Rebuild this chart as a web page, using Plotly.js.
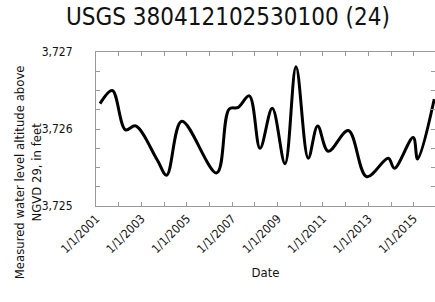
<!DOCTYPE html>
<html>
<head>
<meta charset="utf-8">
<script src="https://cdn.plot.ly/plotly-3.0.1.min.js"></script>
<style>html,body{margin:0;padding:0;background:#fff;}#chart{width:435px;height:302px;}</style>
</head>
<body>
<div id="chart"></div>
<script>
const dates = ['2001-03-07','2001-09-20','2002-04-20','2002-10-01','2003-09-12','2004-02-12','2004-10-12','2006-04-27','2006-11-15','2007-04-07','2007-10-04','2008-03-25','2008-10-08','2009-05-01','2009-10-25','2010-05-10','2010-10-08','2011-03-28','2012-02-14','2012-12-06','2013-11-18','2014-02-24','2014-12-24','2015-03-05','2015-11-28'];
const levels = [3726.33,3726.50,3725.99,3726.04,3725.60,3725.40,3726.10,3725.43,3726.26,3726.28,3726.43,3725.75,3726.27,3725.55,3726.81,3725.62,3726.04,3725.71,3725.98,3725.38,3725.62,3725.49,3725.89,3725.61,3726.39];
const xTickVals = ['2001-01-01','2002-01-01','2003-01-01','2004-01-01','2005-01-01','2006-01-01','2007-01-01','2008-01-01','2009-01-01','2010-01-01','2011-01-01','2012-01-01','2013-01-01','2014-01-01','2015-01-01'];
const xTickText = ['1/1/2001','','1/1/2003','','1/1/2005','','1/1/2007','','1/1/2009','','1/1/2011','','1/1/2013','','1/1/2015'];
const yTickVals = [3725,3725.25,3725.5,3725.75,3726,3726.25,3726.5,3726.75,3727];
const yTickText = ['3,725','','','','3,726','','','','3,727'];
const titleText = 'USGS 380412102530100 (24)';
const yTitle = 'Measured water level altitude above<br>NGVD 29, in feet';
const xTitle = 'Date';

const FONT = '"Liberation Sans Narrow", "DejaVu Sans Condensed", sans-serif';

Plotly.newPlot('chart', [{
  x: dates, y: levels, type: 'scatter', mode: 'lines',
  line: {color: '#000', width: 3, shape: 'spline', smoothing: 1}
}], {
  width: 435, height: 302,
  margin: {l: 96, r: 0, t: 52, b: 96},
  paper_bgcolor: '#fff', plot_bgcolor: '#fff',
  showlegend: false,
  font: {family: FONT, color: '#000', size: 12},
  title: {text: titleText, font: {family: FONT, size: 24, color: '#111'}, xref: 'container', x: 0.524, xanchor: 'center', yref: 'container', y: 0.945, yanchor: 'middle'},
  xaxis: {
    type: 'date', range: ['2001-01-01', '2015-12-10'],
    tickmode: 'array', tickvals: xTickVals, ticktext: xTickText,
    tickangle: -45, ticks: 'inside', ticklen: 4, tickcolor: '#999',
    showline: true, linecolor: '#999', linewidth: 1, mirror: 'ticks',
    showgrid: false, zeroline: false,
    tickfont: {family: FONT, size: 12, color: '#111'},
    title: {text: xTitle, font: {family: FONT, size: 13, color: '#111'}, standoff: 12}
  },
  yaxis: {
    range: [3725, 3727],
    tickmode: 'array', tickvals: yTickVals, ticktext: yTickText,
    ticks: 'inside', ticklen: 4, tickcolor: '#999',
    showline: true, linecolor: '#999', linewidth: 1, mirror: 'ticks',
    showgrid: false, zeroline: false,
    ticklabelstandoff: 20,
    tickfont: {family: FONT, size: 12, color: '#111'}
  },
  annotations: [{
    text: yTitle, textangle: -90, showarrow: false,
    xref: 'paper', yref: 'paper', x: -0.2, y: 0.22,
    xanchor: 'center', yanchor: 'middle',
    font: {family: FONT, size: 13, color: '#111'}
  }]
}, {displayModeBar: false, staticPlot: true});
</script>
</body>
</html>
